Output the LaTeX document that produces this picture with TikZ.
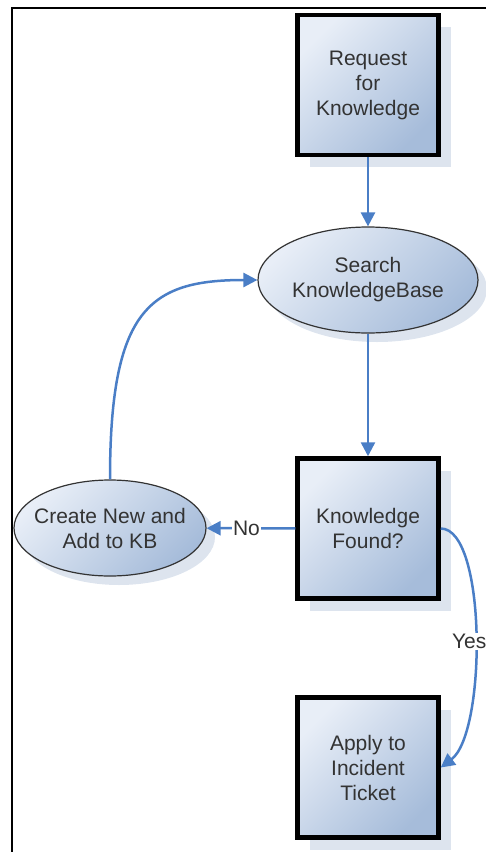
\documentclass[tikz,border=0pt]{standalone}
\usepackage{fontspec}
\setmainfont{Liberation Sans}
\usepackage{tikz}
\usetikzlibrary{arrows.meta,shadows,shapes.geometric}

\definecolor{flowblue}{HTML}{4A7EC6}
\definecolor{filllight}{HTML}{E8EEF7}
\definecolor{filldark}{HTML}{A6BCDA}
\definecolor{shadowgrey}{HTML}{DDE4EE}
\definecolor{textgrey}{HTML}{333333}

\tikzset{
  flowtext/.style={text=textgrey, font=\fontsize{21}{25}\selectfont, align=center},
  stepbox/.style={flowtext, draw=black, line width=4.5pt, minimum width=141pt,
    minimum height=140pt, top color=filllight, bottom color=filldark, shading angle=45,
    general shadow={fill=shadowgrey, shadow xshift=12pt, shadow yshift=-12pt}},
  flowoval/.style={flowtext, ellipse, draw=black!80, line width=1.2pt, inner xsep=-10pt,
    inner ysep=0pt, top color=filllight, bottom color=filldark, shading angle=45,
    general shadow={fill=shadowgrey, shadow xshift=9pt, shadow yshift=-9pt}},
  flowarrow/.style={draw=flowblue, line width=2.5pt, -{Triangle[width=14pt,length=14pt]}},
  flowlabel/.style={flowtext, fill=white, inner sep=1pt}
}

\begin{document}
\begin{tikzpicture}[x=1pt,y=-1pt]
      \useasboundingbox (0,0) rectangle (486,852);
      \clip (0,0) rectangle (486,852);
      % frame
      \draw[line width=2pt] (12,870) -- (12,8) -- (500,8);

      % boxes and ovals
      \node[stepbox] (request) at (368,85) {Request\\for\\Knowledge};
      \node[flowoval, minimum width=220pt, minimum height=106pt] (search) at (368,280) {Search\\KnowledgeBase};
      \node[stepbox] (found) at (368,528.5) {Knowledge\\Found?};
      \node[flowoval, minimum width=192pt, minimum height=96pt] (create) at (110,528) {Create New and\\Add to KB};
      \node[stepbox] (apply) at (368,767.5) {Apply to\\Incident\\Ticket};

      % connectors
      \draw[flowarrow] (request) -- (search);
      \draw[flowarrow] (search) -- (found);
      \draw[flowarrow] (found) -- node[flowlabel, pos=0.55] {No} (create);
      \draw[flowarrow] (create.north) .. controls +(0,-170) and +(-108,0) .. (search.west);
      \draw[flowarrow] (found.east) .. controls +(46,0) and +(46,-35) ..
        node[flowlabel, pos=0.52, xshift=-6pt] {Yes} (apply.east);
    \end{tikzpicture}
\end{document}
